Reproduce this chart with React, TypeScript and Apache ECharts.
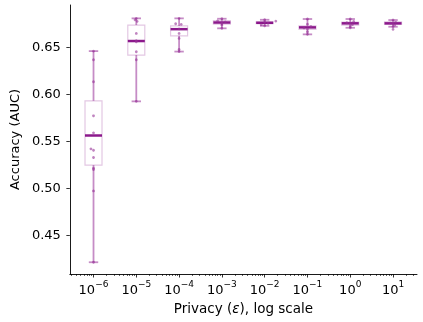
import React, { useEffect, useRef } from "react";
import * as echarts from "echarts";

// Exponents of epsilon (log10), one per box
const exponents = [-6, -5, -4, -3, -2, -1, 0, 1];

// Box statistics: [whisker low, Q1, median, Q3, whisker high]
const boxStats = [
  [0.421, 0.5242, 0.5557, 0.5926, 0.6454],
  [0.592, 0.6412, 0.6561, 0.6731, 0.6802],
  [0.6449, 0.6616, 0.6687, 0.6722, 0.6802],
  [0.6696, 0.6741, 0.6758, 0.6777, 0.6798],
  [0.6723, 0.6745, 0.6755, 0.6766, 0.6787],
  [0.6632, 0.6685, 0.6706, 0.6723, 0.6795],
  [0.6702, 0.6731, 0.6749, 0.6763, 0.6795],
  [0.6713, 0.6738, 0.6749, 0.6766, 0.6784],
];

// Individual run values (AUC) per exponent
const runValues = [
  [0.6454, 0.6362, 0.6128, 0.5766, 0.5585, 0.5415, 0.54, 0.5323, 0.521, 0.5195, 0.4968, 0.421],
  [0.6802, 0.6786, 0.677, 0.6642, 0.6565, 0.6553, 0.6447, 0.6362, 0.592],
  [0.6802, 0.6745, 0.6738, 0.669, 0.6642, 0.6589, 0.6472, 0.6449],
  [0.6798, 0.6775, 0.6765, 0.6758, 0.6745, 0.673, 0.6696],
  [0.6787, 0.6773, 0.676, 0.675, 0.6735, 0.6723],
  [0.6795, 0.674, 0.6715, 0.67, 0.669, 0.666, 0.6632],
  [0.6795, 0.677, 0.6755, 0.6745, 0.6735, 0.6715, 0.6702],
  [0.6784, 0.676, 0.6752, 0.6745, 0.673, 0.6713, 0.6685],
];
// Small horizontal jitter (in decades) of each run point
const runJitter = [
  [0, 0, 0, 0, 0, -0.06, 0, 0, 0, 0, 0, 0],
  [0, -0.03, 0.02, 0, 0, 0, 0, 0, 0],
  [0, -0.08, 0.05, 0, 0, 0, 0, 0],
  [0, -0.1, 0.08, 0, 0, 0, 0],
  [0, 0.26, 0, 0.08, -0.08, 0],
  [0, 0, 0.08, -0.08, 0, 0, 0],
  [0, 0.08, -0.08, 0, 0.05, 0, 0],
  [0, 0.06, -0.06, 0, 0.04, 0, 0],
];

const yTicks = [0.45, 0.5, 0.55, 0.6, 0.65];
const xMajorTicks = [-6, -5, -4, -3, -2, -1, 0, 1];
const minorMultipliers = [2, 3, 4, 5, 6, 7, 8, 9];

const X_MIN = -6.553;
const X_MAX = 1.56;
const Y_MIN = 0.4085;
const Y_MAX = 0.6944;

const FONT = "DejaVu Sans";

export default function App() {
  const ref = useRef<HTMLDivElement>(null);

  useEffect(() => {
    if (!ref.current) return;
    const chart = echarts.init(ref.current, undefined, { renderer: "svg" });

    const minorTicks: number[] = [];
    for (let n = -7; n <= 1; n++) {
      for (const k of minorMultipliers) {
        const v = n + Math.log10(k);
        if (v > X_MIN && v < X_MAX) minorTicks.push(v);
      }
    }

    const boxData = exponents.map((e, i) => [e, ...boxStats[i]]);
    const pointData: number[][] = [];
    exponents.forEach((e, i) => {
      runValues[i].forEach((v, j) => pointData.push([e + runJitter[i][j], v]));
    });

    const boxColor = "rgba(128,0,128,0.22)";
    const whiskerColor = "rgba(128,0,128,0.45)";
    const medianColor = "rgba(128,0,128,0.9)";
    const halfBox = 8.5;
    const halfCap = 4.7;

    const fmtExp = (v: number) => {
      const r = Math.round(v);
      const s = r < 0 ? "\u2212" + Math.abs(r) : String(r);
      return `{b|10}{s|${s}}`;
    };

    chart.setOption({
      animation: false,
      grid: { left: 61, right: 6, top: 5, bottom: 48, containLabel: false },
      xAxis: [
        {
          type: "value",
          min: X_MIN,
          max: X_MAX,
          position: "bottom",
          axisLine: { show: true, onZero: false, lineStyle: { color: "#000", width: 0.9 } },
          axisTick: {
            show: true,
            length: 3.5,
            customValues: xMajorTicks,
            lineStyle: { color: "#000", width: 0.8 },
          },
          axisLabel: {
            customValues: xMajorTicks,
            margin: 5,
            formatter: fmtExp,
            rich: {
              b: { fontSize: 13, fontFamily: FONT, color: "#000", verticalAlign: "bottom", lineHeight: 17 },
              s: { fontSize: 9, fontFamily: FONT, color: "#000", verticalAlign: "top", lineHeight: 9 },
            },
          },
          splitLine: { show: false },
          name: "Privacy ({e|ε}), log scale",
          nameLocation: "middle",
          nameGap: 26,
          nameTextStyle: {
            fontSize: 13.5,
            fontFamily: FONT,
            color: "#000",
            rich: { e: { fontSize: 13.5, fontFamily: FONT, fontStyle: "italic", color: "#000" } },
          },
        },
        {
          type: "value",
          min: X_MIN,
          max: X_MAX,
          position: "bottom",
          offset: 0,
          axisLine: { show: false, onZero: false },
          axisTick: {
            show: true,
            length: 2,
            customValues: minorTicks,
            lineStyle: { color: "#000", width: 0.6 },
          },
          axisLabel: { show: false },
          splitLine: { show: false },
        },
      ],
      yAxis: {
        type: "value",
        min: Y_MIN,
        max: Y_MAX,
        axisLine: { show: true, onZero: false, lineStyle: { color: "#000", width: 0.9 } },
        axisTick: {
          show: true,
          length: 3.5,
          customValues: yTicks,
          lineStyle: { color: "#000", width: 0.8 },
        },
        axisLabel: {
          customValues: yTicks,
          margin: 9,
          formatter: (v: number) => v.toFixed(2),
          fontSize: 13,
          fontFamily: FONT,
          color: "#000",
        },
        splitLine: { show: false },
        name: "Accuracy (AUC)",
        nameLocation: "middle",
        nameGap: 44,
        nameTextStyle: { fontSize: 13, fontFamily: FONT, color: "#000" },
      },
      series: [
        {
          type: "custom",
          xAxisIndex: 0,
          yAxisIndex: 0,
          data: boxData,
          encode: { x: 0, y: [1, 2, 3, 4, 5] },
          clip: false,
          renderItem: (params: any, api: any) => {
            const x = api.value(0);
            const lo = api.coord([x, api.value(1)]);
            const q1 = api.coord([x, api.value(2)]);
            const med = api.coord([x, api.value(3)]);
            const q3 = api.coord([x, api.value(4)]);
            const hi = api.coord([x, api.value(5)]);
            const cx = lo[0];
            const wStyle = { stroke: whiskerColor, lineWidth: 1.8, fill: "none" };
            return {
              type: "group",
              children: [
                { type: "line", shape: { x1: cx, y1: q1[1], x2: cx, y2: lo[1] }, style: wStyle },
                { type: "line", shape: { x1: cx, y1: q3[1], x2: cx, y2: hi[1] }, style: wStyle },
                { type: "line", shape: { x1: cx - halfCap, y1: lo[1], x2: cx + halfCap, y2: lo[1] }, style: wStyle },
                { type: "line", shape: { x1: cx - halfCap, y1: hi[1], x2: cx + halfCap, y2: hi[1] }, style: wStyle },
                {
                  type: "rect",
                  shape: { x: cx - halfBox, y: q3[1], width: 2 * halfBox, height: q1[1] - q3[1] },
                  style: { stroke: boxColor, lineWidth: 1.2, fill: "none" },
                },
                {
                  type: "line",
                  shape: { x1: cx - halfBox, y1: med[1], x2: cx + halfBox, y2: med[1] },
                  style: { stroke: medianColor, lineWidth: 2.5 },
                },
              ],
            };
          },
        },
        {
          type: "scatter",
          xAxisIndex: 0,
          yAxisIndex: 0,
          data: pointData,
          symbol: "circle",
          symbolSize: 2.8,
          itemStyle: { color: "rgba(150,50,150,0.75)" },
        },
      ],
    });

    return () => chart.dispose();
  }, []);

  return (
    <div
      ref={ref}
      style={{ position: "fixed", left: 0, top: 0, width: 423, height: 322 }}
    />
  );
}
